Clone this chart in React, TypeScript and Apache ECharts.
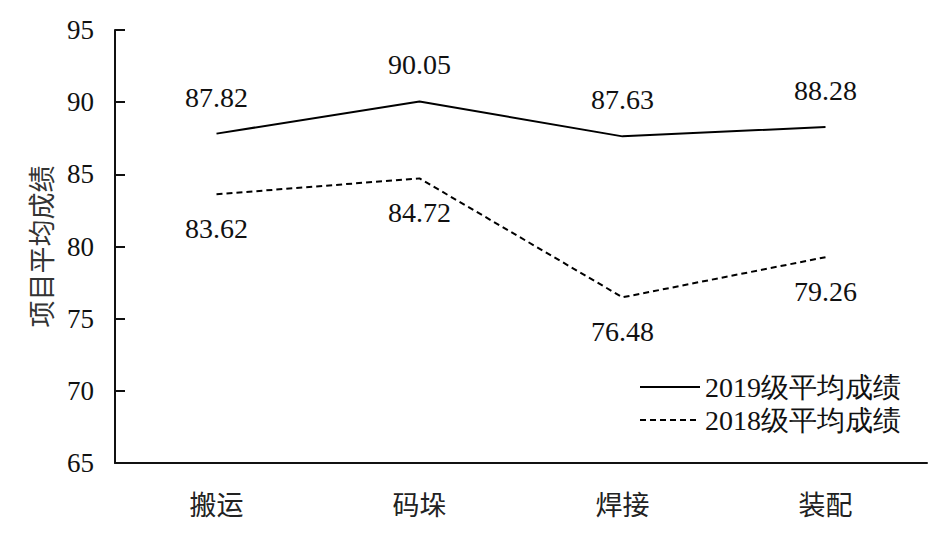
import React, { useEffect, useRef } from "react";
import * as echarts from "echarts";

const categories = ["搬运", "码垛", "焊接", "装配"];
const series2019 = [87.82, 90.05, 87.63, 88.28];
const series2018 = [83.62, 84.72, 76.48, 79.26];
const seriesNames = ["2019级平均成绩", "2018级平均成绩"];
const yAxisName = "项目平均成绩";

const SERIF = "Liberation Serif, Times New Roman, serif";
const CJK = "Noto Sans CJK SC";

export default function App() {
  const ref = useRef<HTMLDivElement>(null);
  useEffect(() => {
    if (!ref.current) return;
    const chart = echarts.init(ref.current, undefined, { renderer: "svg" });
    chart.setOption({
      animation: false,
      backgroundColor: "#ffffff",
      grid: { left: 115, right: 18, top: 30, bottom: 71, containLabel: false },
      legend: {
        orient: "vertical",
        left: 634,
        top: 368,
        itemWidth: 60,
        itemHeight: 14,
        itemGap: 5,
        textStyle: { fontFamily: SERIF, fontSize: 28, color: "#111" },
        data: seriesNames,
      },
      xAxis: {
        type: "category",
        data: categories,
        boundaryGap: true,
        axisLine: { lineStyle: { color: "#111", width: 2 } },
        axisTick: { inside: true, length: 10, alignWithLabel: false, lineStyle: { color: "#111", width: 2 } },
        axisLabel: { fontFamily: CJK, fontSize: 27, color: "#222", margin: 27 },
        splitLine: { show: false },
      },
      yAxis: {
        type: "value",
        min: 65,
        max: 95,
        interval: 5,
        name: yAxisName,
        nameLocation: "middle",
        nameRotate: 90,
        nameGap: 61,
        nameTextStyle: { fontFamily: CJK, fontSize: 27, color: "#333" },
        axisLine: { show: true, lineStyle: { color: "#111", width: 2 } },
        axisTick: { show: true, inside: true, length: 10, lineStyle: { color: "#111", width: 2 } },
        axisLabel: { fontFamily: SERIF, fontSize: 27, color: "#111", margin: 21 },
        splitLine: { show: false },
      },
      series: [
        {
          name: seriesNames[0],
          type: "line",
          data: series2019,
          symbol: "circle",
          symbolSize: 1,
          lineStyle: { color: "#000", width: 2 },
          itemStyle: { color: "#000", opacity: 0 },
          label: {
            show: true,
            position: "top",
            distance: 22,
            fontFamily: SERIF,
            fontSize: 28,
            color: "#111",
            opacity: 1,
            formatter: (p: any) => p.value.toFixed(2),
          },
        },
        {
          name: seriesNames[1],
          type: "line",
          data: series2018,
          symbol: "circle",
          symbolSize: 1,
          lineStyle: { color: "#000", width: 2, type: [6, 4] },
          itemStyle: { color: "#000", opacity: 0 },
          label: {
            show: true,
            position: "bottom",
            distance: 20,
            fontFamily: SERIF,
            fontSize: 28,
            color: "#111",
            opacity: 1,
            formatter: (p: any) => p.value.toFixed(2),
          },
        },
      ],
    });
    return () => chart.dispose();
  }, []);
  return <div ref={ref} style={{ width: 945, height: 534, position: "absolute", left: 0, top: 0 }} />;
}
